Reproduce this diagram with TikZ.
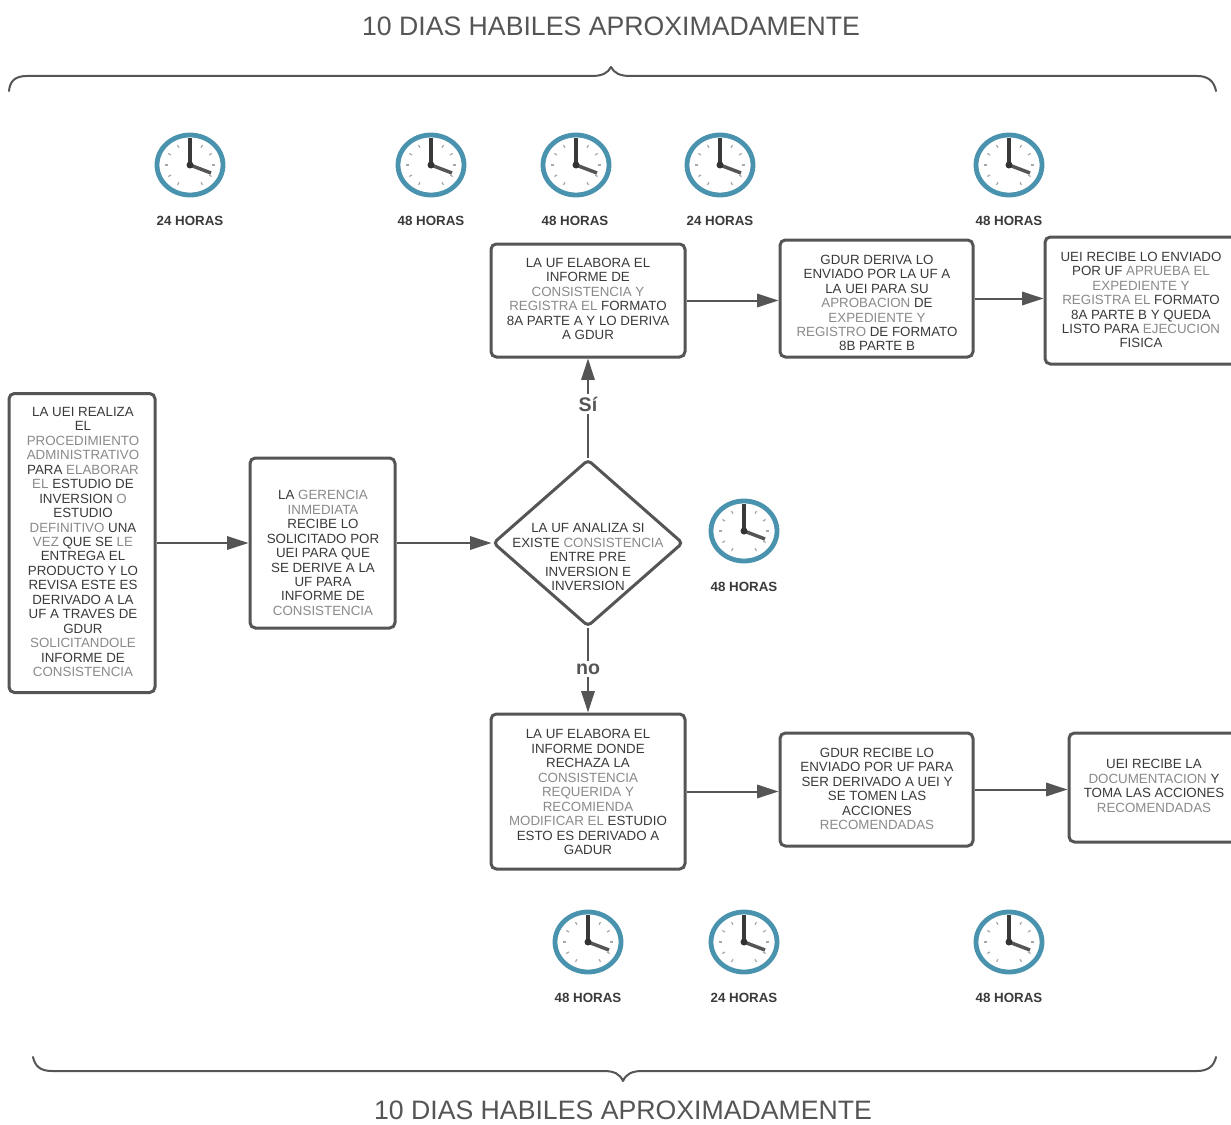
\documentclass[tikz,border=0pt]{standalone}
\usepackage{fontspec}
\setmainfont{Liberation Sans}
\usetikzlibrary{shapes.geometric,arrows.meta}
\definecolor{ln}{HTML}{555555}
\definecolor{tdk}{HTML}{3A3A3A}
\definecolor{tlt}{HTML}{8A8A8A}
\definecolor{tick}{HTML}{A8A8A8}
\definecolor{ring}{HTML}{4A93AE}
\newcommand{\lgt}[1]{{\color{tlt}#1}}
\def\pxu{0.75pt}
\tikzset{
  box/.style={draw=ln,line width=2.25pt,rounded corners=4pt,fill=white,inner sep=0pt},
  tx/.style={align=center,inner sep=0pt,text=tdk,font=\fontsize{10}{10.85}\selectfont},
  hrs/.style={inner sep=0pt,text=tdk,font=\bfseries\fontsize{10}{12}\selectfont},
  title/.style={inner sep=0pt,text=ln,font=\fontsize{20}{22}\selectfont},
  branch/.style={inner sep=2pt,fill=white,text=ln,font=\bfseries\fontsize{14.7}{16}\selectfont},
  conn/.style={draw=ln,line width=1.5pt,-{Triangle[length=16pt,width=10pt,fill=ln]}},
  brace/.style={draw=ln,line width=1.5pt,line cap=round,line join=round},
  clk/.pic={
    \draw[ring,line width=3.6pt,fill=white] (0,0) ellipse [x radius=33,y radius=30];
    \foreach \a in {30,60,120,150,180,210,240,270,300,330,0}
      \draw[tick,line width=0.9pt] (\a:25 and 23) -- (\a:22 and 20);
    \draw[tdk,line width=2.6pt] (0,0) -- (0,-27);
    \draw[ln,line width=2.6pt] (0,0) -- (21,8);
    \fill[black!80] (0,0) circle [radius=3.5];
  }
}
\begin{document}
\begin{tikzpicture}[x=\pxu,y=-\pxu]
\useasboundingbox[fill=white] (0,0) rectangle (1231,1124);

% titles and braces
\node (t1) [title] at (611,26) {10 DIAS HABILES APROXIMADAMENTE};
\node (t2) [title] at (623,1110) {10 DIAS HABILES APROXIMADAMENTE};
\draw[brace] (9,91) .. controls (10,81) and (15,76) .. (27,76) -- (592,76)
  .. controls (602,76) and (608,73) .. (611,67)
  .. controls (614,73) and (620,76) .. (630,76) -- (1197,76)
  .. controls (1208,76) and (1214,81) .. (1216,91);
\draw[brace] (33,1057) .. controls (35,1066) and (40,1071) .. (52,1071) -- (604,1071)
  .. controls (614,1071) and (620,1074) .. (623,1081)
  .. controls (626,1074) and (632,1071) .. (642,1071) -- (1197,1071)
  .. controls (1208,1071) and (1214,1066) .. (1216,1057);

% boxes
\node (A) [box,minimum width=146*\pxu,minimum height=299*\pxu] at (82,543) {};
\node (B) [box,minimum width=145*\pxu,minimum height=170*\pxu] at (322.5,543) {};
\node (Q) [diamond,draw=ln,line width=2.25pt,rounded corners=3pt,fill=white,inner sep=0pt,
  minimum width=190*\pxu,minimum height=167*\pxu] at (588,543) {};
\node (C) [box,minimum width=194*\pxu,minimum height=113*\pxu] at (588,300.5) {};
\node (D) [box,minimum width=193*\pxu,minimum height=117*\pxu] at (876.5,298.5) {};
\node (E) [box,minimum width=192*\pxu,minimum height=127*\pxu] at (1141,300.5) {};
\node (F) [box,minimum width=194*\pxu,minimum height=155*\pxu] at (588,791.5) {};
\node (G) [box,minimum width=193*\pxu,minimum height=113*\pxu] at (876.5,789.5) {};
\node (H) [box,minimum width=170*\pxu,minimum height=109*\pxu] at (1154,787.5) {};

% box texts
\node (At) [tx] at (83,542) {LA UEI REALIZA\\EL\\\lgt{PROCEDIMIENTO}\\\lgt{ADMINISTRATIVO}\\PARA \lgt{ELABORAR}\\\lgt{EL} ESTUDIO DE\\INVERSION \lgt{O}\\ESTUDIO\\\lgt{DEFINITIVO} UNA\\\lgt{VEZ} QUE SE \lgt{LE}\\ENTREGA EL\\PRODUCTO Y LO\\REVISA ESTE ES\\DERIVADO A LA\\UF A TRAVES DE\\GDUR\\\lgt{SOLICITANDOLE}\\INFORME DE\\\lgt{CONSISTENCIA}};
\node (Bt) [tx] at (323,553) {LA \lgt{GERENCIA}\\\lgt{INMEDIATA}\\RECIBE LO\\SOLICITADO POR\\UEI PARA QUE\\SE DERIVE A LA\\UF PARA\\INFORME DE\\\lgt{CONSISTENCIA}};
\node (Qt) [tx] at (588,557) {LA UF ANALIZA SI\\EXISTE \lgt{CONSISTENCIA}\\ENTRE PRE\\INVERSION E\\INVERSION};
\node (Ct) [tx] at (588,299) {LA UF ELABORA EL\\INFORME DE\\\lgt{CONSISTENCIA Y}\\\lgt{REGISTRA EL} FORMATO\\8A PARTE A Y LO DERIVA\\A GDUR};
\node (Dt) [tx] at (877,303) {GDUR DERIVA LO\\ENVIADO POR LA UF A\\LA UEI PARA SU\\\lgt{APROBACION} DE\\\lgt{EXPEDIENTE Y}\\\lgt{REGISTRO} DE FORMATO\\8B PARTE B};
\node (Et) [tx] at (1141,300) {UEI RECIBE LO ENVIADO\\POR UF \lgt{APRUEBA EL}\\\lgt{EXPEDIENTE Y}\\\lgt{REGISTRA EL} FORMATO\\8A PARTE B Y QUEDA\\LISTO PARA \lgt{EJECUCION}\\FISICA};
\node (Ft) [tx] at (588,792) {LA UF ELABORA EL\\INFORME DONDE\\RECHAZA LA\\\lgt{CONSISTENCIA}\\\lgt{REQUERIDA Y}\\\lgt{RECOMIENDA}\\\lgt{MODIFICAR EL} ESTUDIO\\ESTO ES DERIVADO A\\GADUR};
\node (Gt) [tx] at (877,789) {GDUR RECIBE LO\\ENVIADO POR UF PARA\\SER DERIVADO A UEI Y\\SE TOMEN LAS\\ACCIONES\\\lgt{RECOMENDADAS}};
\node (Ht) [tx] at (1154,786) {UEI RECIBE LA\\\lgt{DOCUMENTACION} Y\\TOMA LAS ACCIONES\\\lgt{RECOMENDADAS}};

% connectors
\draw[conn] (A.east) -- (B.west);
\draw[conn] (B.east) -- (Q.west);
\draw[conn] (Q.north) -- (C.south) node (si) [branch,pos=0.54] {Sí};
\draw[conn] (Q.south) -- (F.north) node (no) [branch,pos=0.49] {no};
\draw[conn] (C.east) -- (C.east -| D.west);
\draw[conn] (D.east) -- (D.east -| E.west);
\draw[conn] (F.east) -- (F.east -| G.west);
\draw[conn] (G.east) -- (G.east -| H.west);

% clocks
\pic (c1) at (190,165) {clk};
\pic (c2) at (431,165) {clk};
\pic (c3) at (576,165) {clk};
\pic (c4) at (720,165) {clk};
\pic (c5) at (1009,165) {clk};
\pic (c6) at (744,531) {clk};
\pic (c7) at (588,942) {clk};
\pic (c8) at (744,942) {clk};
\pic (c9) at (1009,942) {clk};
\node (h1) [hrs] at (190,221) {24 HORAS};
\node (h2) [hrs] at (431,221) {48 HORAS};
\node (h3) [hrs] at (575,221) {48 HORAS};
\node (h4) [hrs] at (720,221) {24 HORAS};
\node (h5) [hrs] at (1009,221) {48 HORAS};
\node (h6) [hrs] at (744,587) {48 HORAS};
\node (h7) [hrs] at (588,998) {48 HORAS};
\node (h8) [hrs] at (744,998) {24 HORAS};
\node (h9) [hrs] at (1009,998) {48 HORAS};
\end{tikzpicture}
\end{document}
